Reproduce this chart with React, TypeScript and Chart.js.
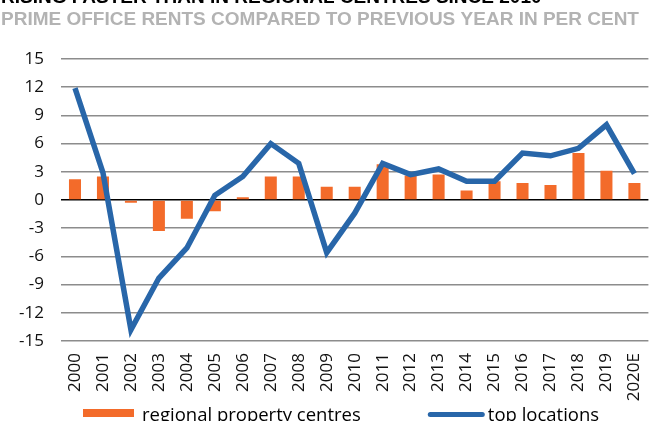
import React, { useEffect, useRef } from 'react';
import { Chart, registerables } from 'chart.js';

Chart.register(...registerables);

const titleText = 'RISING FASTER THAN IN REGIONAL CENTRES SINCE 2010';
const subtitleText = 'PRIME OFFICE RENTS COMPARED TO PREVIOUS YEAR IN PER CENT';

const years = [
  '2000', '2001', '2002', '2003', '2004', '2005', '2006', '2007', '2008', '2009', '2010',
  '2011', '2012', '2013', '2014', '2015', '2016', '2017', '2018', '2019', '2020E',
];

const regionalPropertyCentres = [
  2.2, 2.5, -0.3, -3.3, -2.0, -1.2, 0.3, 2.5, 2.5, 1.4, 1.4,
  3.8, 2.6, 2.7, 1.0, 2.0, 1.8, 1.6, 5.0, 3.1, 1.8,
];

const topLocations = [
  11.9, 2.9, -13.8, -8.3, -5.1, 0.5, 2.5, 6.0, 3.9, -5.6, -1.4,
  3.9, 2.7, 3.3, 2.0, 2.0, 5.0, 4.7, 5.5, 8.0, 2.8,
];

const yTickValues = [-15, -12, -9, -6, -3, 0, 3, 6, 9, 12, 15];

const seriesLabels = ['regional property centres', 'top locations'];

const ORANGE = '#f36b2a';
const BLUE = '#2866a9';
const GRID = '#8c8c8c';
const SUBTITLE_GREY = '#b3b3b3';

const headerPlugin = {
  id: 'header',
  afterDraw(chart: any) {
    const { ctx } = chart;
    ctx.save();
    ctx.font = 'bold 19px "Liberation Sans", Arial, sans-serif';
    ctx.textBaseline = 'alphabetic';
    ctx.textAlign = 'left';
    ctx.fillStyle = '#000';
    ctx.fillText(titleText, 1, 3);
    ctx.fillStyle = SUBTITLE_GREY;
    ctx.fillText(subtitleText, 1, 25);
    ctx.restore();
  },
};

const bottomLegendPlugin = {
  id: 'bottomLegend',
  afterDraw(chart: any) {
    const { ctx } = chart;
    const ds = chart.data.datasets;
    ctx.save();
    ctx.font = '18.5px "Open Sans", sans-serif';
    ctx.textBaseline = 'alphabetic';
    ctx.textAlign = 'left';
    let x = 83;
    ctx.fillStyle = ds[0].backgroundColor;
    ctx.fillRect(x, 409, 51, 8);
    x += 51 + 8;
    ctx.fillStyle = '#000';
    ctx.fillText(ds[0].label, x, 421);
    x += ctx.measureText(ds[0].label).width + 67;
    ctx.strokeStyle = ds[1].borderColor;
    ctx.lineWidth = 5;
    ctx.lineCap = 'round';
    ctx.beginPath();
    ctx.moveTo(x + 2.5, 414.5);
    ctx.lineTo(x + 54.5, 414.5);
    ctx.stroke();
    x += 57 + 3;
    ctx.fillStyle = '#000';
    ctx.fillText(ds[1].label, x, 421);
    ctx.restore();
  },
};

export default function App() {
  const canvasRef = useRef<HTMLCanvasElement | null>(null);

  useEffect(() => {
    const canvas = canvasRef.current;
    if (!canvas) return;
    const tickFont = { family: '"Open Sans", sans-serif', size: 17 };
    const chart = new Chart(canvas, {
      type: 'bar',
      data: {
        labels: years,
        datasets: [
          {
            type: 'bar',
            label: seriesLabels[0],
            data: regionalPropertyCentres,
            backgroundColor: ORANGE,
            barPercentage: 0.43,
            categoryPercentage: 1,
            order: 1,
          },
          {
            type: 'line',
            label: seriesLabels[1],
            data: topLocations,
            borderColor: BLUE,
            backgroundColor: BLUE,
            borderWidth: 5.5,
            pointRadius: 0,
            pointHoverRadius: 0,
            tension: 0,
            fill: false,
            order: 0,
          },
        ],
      } as any,
      options: {
        responsive: false,
        animation: false,
        devicePixelRatio: 1,
        layout: { padding: { top: 59, right: 8, left: 0, bottom: 0 } },
        plugins: {
          legend: { display: false },
          tooltip: { enabled: false },
          title: { display: false },
        },
        scales: {
          x: {
            grid: { display: false, drawTicks: false },
            border: { display: false },
            ticks: {
              minRotation: 90,
              maxRotation: 90,
              autoSkip: false,
              padding: 12,
              color: '#111',
              font: tickFont,
            },
            afterFit: (s: any) => {
              s.height = 80;
            },
          },
          y: {
            min: -15,
            max: 15,
            afterBuildTicks: (s: any) => {
              s.ticks = yTickValues.map((v) => ({ value: v }));
            },
            grid: {
              color: (c: any) => (c.tick && c.tick.value === 0 ? '#000' : GRID),
              lineWidth: 1.5,
              drawTicks: false,
            },
            border: { display: false },
            ticks: {
              padding: 17,
              color: '#111',
              font: tickFont,
              callback: (v: any) => String(v),
            },
            afterFit: (s: any) => {
              s.width = 61;
            },
          },
        },
      } as any,
      plugins: [headerPlugin, bottomLegendPlugin],
    });
    return () => chart.destroy();
  }, []);

  return (
    <div style={{ position: 'fixed', left: 0, top: 0, width: 667, height: 421, overflow: 'hidden', background: '#fff' }}>
      <canvas ref={canvasRef} width={667} height={421} style={{ display: 'block', width: 667, height: 421 }} />
    </div>
  );
}
